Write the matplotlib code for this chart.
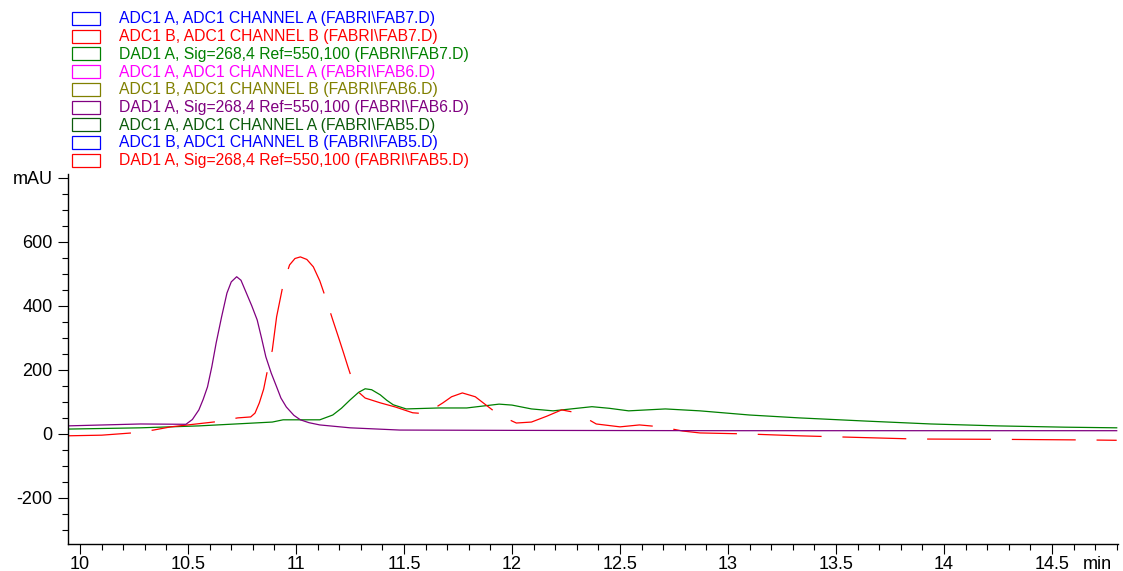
import numpy as np
import matplotlib.pyplot as plt
from matplotlib.ticker import MultipleLocator, FixedLocator

plt.rcParams['font.family'] = ['Liberation Sans', 'DejaVu Sans']
plt.rcParams['lines.scale_dashes'] = False

# legend entries (colour, label)
legend_labels = [
    'ADC1 A, ADC1 CHANNEL A (FABRI\\FAB7.D)',
    'ADC1 B, ADC1 CHANNEL B (FABRI\\FAB7.D)',
    'DAD1 A, Sig=268,4 Ref=550,100 (FABRI\\FAB7.D)',
    'ADC1 A, ADC1 CHANNEL A (FABRI\\FAB6.D)',
    'ADC1 B, ADC1 CHANNEL B (FABRI\\FAB6.D)',
    'DAD1 A, Sig=268,4 Ref=550,100 (FABRI\\FAB6.D)',
    'ADC1 A, ADC1 CHANNEL A (FABRI\\FAB5.D)',
    'ADC1 B, ADC1 CHANNEL B (FABRI\\FAB5.D)',
    'DAD1 A, Sig=268,4 Ref=550,100 (FABRI\\FAB5.D)',
]
legend_colors = ['#0000ff', '#ff0000', '#008000', '#ff00ff', '#808000',
                 '#800080', '#0b5a0b', '#0000ff', '#ff0000']

# purple trace (DAD1 A FAB6)
t_purple = [9.94, 10.28, 10.49, 10.52, 10.55, 10.57, 10.59, 10.61, 10.63,
            10.655, 10.68, 10.70, 10.725, 10.745, 10.77, 10.795, 10.82, 10.84,
            10.86, 10.885, 10.91, 10.93, 10.955, 10.99, 11.02, 11.06, 11.11,
            11.25, 11.48, 12.0, 13.0, 14.0, 14.8]
v_purple = [25, 31, 30, 45, 75, 108, 147, 210, 284,
            365, 440, 475, 491, 480, 440, 400, 356, 300,
            241, 190, 147, 112, 84, 58, 44, 35, 28,
            19, 12, 11, 10, 10, 10]

# green trace (DAD1 A FAB7)
t_green = [9.94, 10.28, 10.55, 10.89, 10.94, 11.05, 11.11, 11.17, 11.21,
           11.25, 11.29, 11.32, 11.35, 11.39, 11.42, 11.45, 11.51, 11.66,
           11.79, 11.94, 12.0, 12.09, 12.19, 12.37, 12.45, 12.54, 12.71,
           12.87, 13.1, 13.33, 13.64, 13.94, 14.25, 14.56, 14.8]
v_green = [15, 19, 25, 37, 44, 44, 44, 59, 80,
           106, 130, 141, 138, 122, 105, 91, 78, 81,
           81, 93, 90, 78, 72, 85, 80, 72, 78,
           72, 59, 50, 40, 31, 25, 21, 19]

# red trace (dashed)
t_red = [9.94, 10.1, 10.24, 10.34, 10.42, 10.63, 10.73, 10.79, 10.81,
         10.83, 10.85, 10.865, 10.89, 10.91, 10.94, 10.97, 10.995, 11.02,
         11.05, 11.08, 11.11, 11.14, 11.17, 11.195, 11.22, 11.24, 11.26,
         11.29, 11.32, 11.39, 11.46, 11.54, 11.60, 11.68, 11.72, 11.77,
         11.83, 11.88, 11.94, 12.02, 12.09, 12.16, 12.23, 12.30, 12.39,
         12.5, 12.59, 12.69, 12.79, 12.87, 13.08, 13.33, 13.87, 14.25,
         14.67, 14.8]
v_red = [-6, -4, 3, 12, 22, 38, 50, 53, 65,
         97, 140, 190, 262, 366, 466, 528, 548, 553,
         545, 522, 478, 419, 356, 305, 253, 210, 169,
         130, 112, 97, 84, 66, 63, 97, 116, 128,
         116, 90, 59, 34, 37, 55, 75, 66, 31,
         22, 28, 22, 9, 3, 0, -6, -16, -17,
         -19, -20]

fig = plt.figure(figsize=(11.23, 5.71), dpi=100)
ax = fig.add_axes([68 / 1123, 27 / 571, 1050 / 1123, 370 / 571])

ax.plot(t_green, v_green, color='#008000', lw=0.9)
ax.plot(t_red, v_red, color='#ff0000', lw=0.9, dashes=(46, 15))
ax.plot(t_purple, v_purple, color='#800080', lw=0.9)

ax.set_xlim(9.944, 14.806)
ax.set_ylim(-344, 812)

for s in ['top', 'right']:
    ax.spines[s].set_visible(False)
for s in ['left', 'bottom']:
    ax.spines[s].set_linewidth(1.0)

ax.xaxis.set_major_locator(FixedLocator([10, 10.5, 11, 11.5, 12, 12.5, 13, 13.5, 14, 14.5]))
ax.xaxis.set_minor_locator(MultipleLocator(0.1))
ax.set_xticklabels(['10', '10.5', '11', '11.5', '12', '12.5', '13', '13.5', '14', '14.5'])
ax.yaxis.set_major_locator(FixedLocator([-200, 0, 200, 400, 600, 800]))
ax.yaxis.set_minor_locator(MultipleLocator(50))
ax.set_yticklabels(['-200', '0', '200', '400', '600', 'mAU'])
ax.tick_params(which='major', length=7, width=0.8, labelsize=13)
ax.tick_params(axis='y', which='major', pad=4)
ax.tick_params(axis='x', which='major', pad=1.5)
ax.tick_params(which='minor', length=4, width=0.8)

# axis unit at the right end of the time axis
ax.annotate('min', xy=(14.71, 0), xycoords=('data', 'axes fraction'),
            xytext=(0, -8.5), textcoords='offset points',
            ha='center', va='top', fontsize=13, annotation_clip=False)

# legend: outlined boxes and coloured text
for i, (lab, col) in enumerate(zip(legend_labels, legend_colors)):
    yc = 1 - (19 + i * 17.7) / 571
    fig.patches.append(plt.Rectangle((72 / 1123, yc - 6 / 571), 28 / 1123, 13 / 571,
                                     transform=fig.transFigure, fill=False,
                                     edgecolor=col, lw=0.9))
    fig.text(119 / 1123, yc, lab, color=col, fontsize=11.3, va='center', ha='left')

fig.savefig('out.png', dpi=100)
